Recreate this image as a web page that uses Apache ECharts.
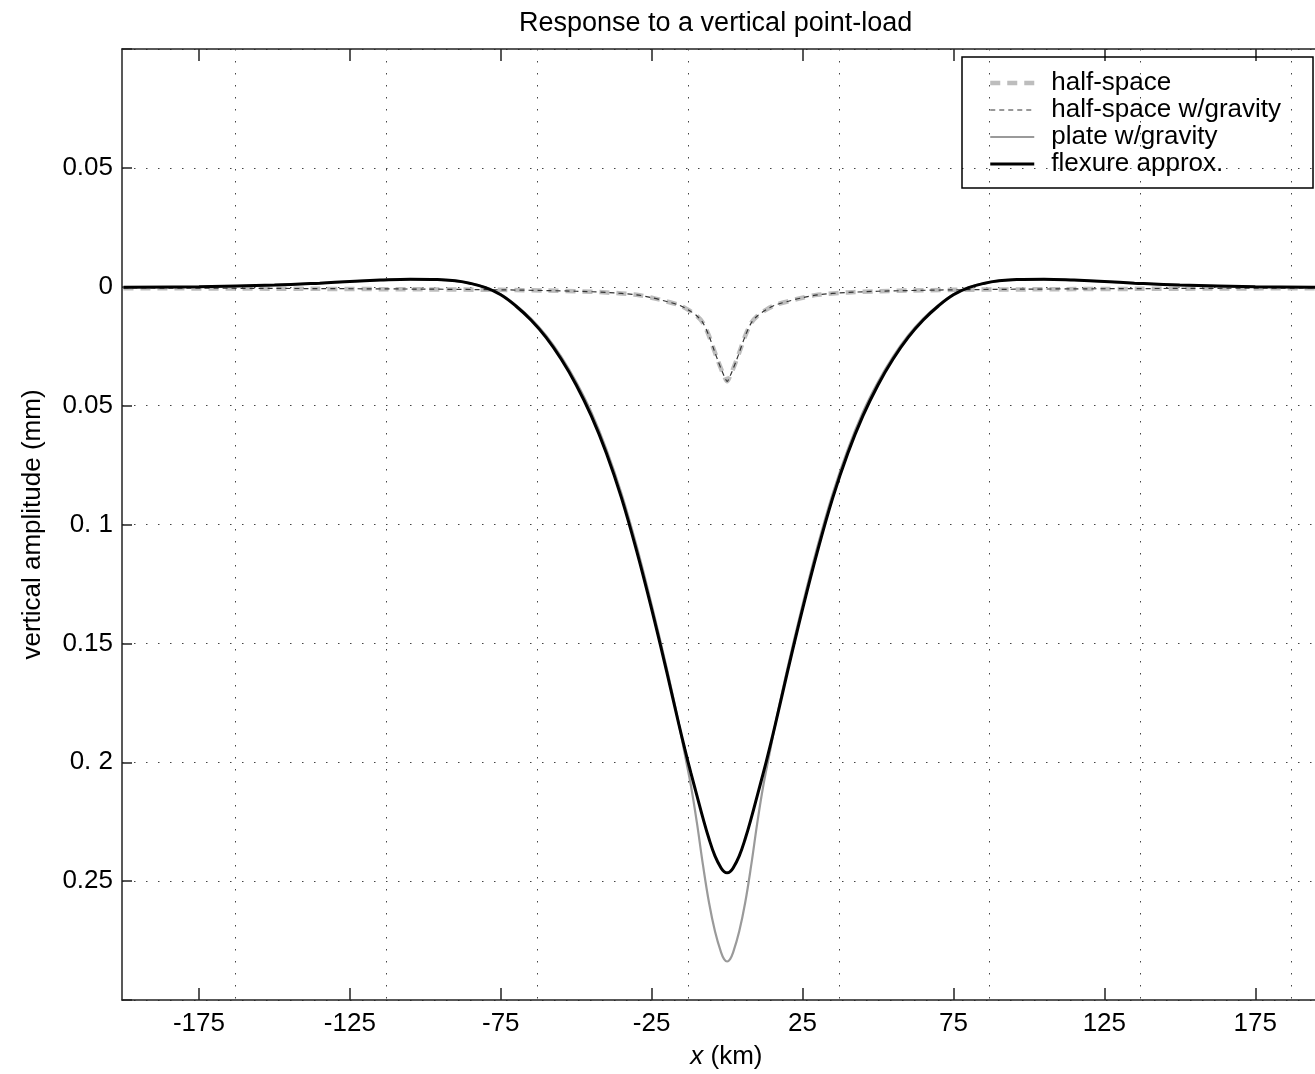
<!DOCTYPE html>
<html><head><meta charset="utf-8">
<script src="https://cdn.jsdelivr.net/npm/echarts@6/dist/echarts.min.js"></script>
<style>html,body{margin:0;padding:0;background:#fff}#c{width:1315px;height:1074px}</style>
</head><body><div id="c"></div>
<script>
// ---- data ----
const xTicks = [-175, -125, -75, -25, 25, 75, 125, 175];
const xGridLines = [-163, -113, -63, -13, 37, 87, 137, 187];
const yTickValues = [-0.05, 0, 0.05, 0.1, 0.15, 0.2, 0.25];
const yTickLabels = ['0.05', '0', '0.05', '0. 1', '0.15', '0. 2', '0.25'];

const hsX = [-200,-150,-100,-75,-60,-50,-40,-30,-25,-20,-16,-13,-10,-8,-6,-4,-3,-2,-1,0,1,2,3,4,6,8,10,13,16,20,25,30,40,50,60,75,100,150,200];
const halfSpace = [0.0006,0.0008,0.0011,0.0013,0.0016,0.0019,0.0024,0.0034,0.0046,0.0062,0.0077,0.0096,0.0123,0.0152,0.0207,0.0278,0.0312,0.0345,0.0375,0.0398,0.0375,0.0345,0.0312,0.0278,0.0207,0.0152,0.0123,0.0096,0.0077,0.0062,0.0046,0.0034,0.0024,0.0019,0.0016,0.0013,0.0011,0.0008,0.0006];
const halfSpaceGrav = [0.0005,0.0007,0.0010,0.0013,0.0016,0.0019,0.0024,0.0034,0.0046,0.0062,0.0077,0.0096,0.0123,0.0152,0.0207,0.0278,0.0312,0.0345,0.0375,0.0398,0.0375,0.0345,0.0312,0.0278,0.0207,0.0152,0.0123,0.0096,0.0077,0.0062,0.0046,0.0034,0.0024,0.0019,0.0016,0.0013,0.0010,0.0007,0.0005];

const flexX = [-200,-175,-150,-135,-125,-115,-105,-96,-90,-85,-80,-75,-70,-65,-60,-55,-50,-45,-40,-35,-30,-25,-20,-16,-14,-12,-10,-8,-6,-4,-2,-1,0,
               1,2,4,6,8,10,12,14,16,20,25,30,35,40,45,50,55,60,65,70,75,80,85,90,96,105,115,125,135,150,175,200];
const plateGrav = [0.0002,0.0000,-0.0007,-0.0015,-0.0022,-0.0028,-0.0031,-0.0030,-0.0024,-0.0014,0.0003,0.0031,0.0077,0.0134,0.0205,0.0294,0.0401,0.0528,0.0684,0.0870,0.1090,0.1338,0.1605,0.1838,0.1968,0.2098,0.2255,0.2432,0.2590,0.2712,0.2800,0.2828,0.2838,
                   0.2828,0.2800,0.2712,0.2590,0.2432,0.2255,0.2098,0.1968,0.1838,0.1605,0.1338,0.1090,0.0870,0.0684,0.0528,0.0401,0.0294,0.0205,0.0134,0.0077,0.0031,0.0003,-0.0014,-0.0024,-0.0030,-0.0031,-0.0028,-0.0022,-0.0015,-0.0007,0.0000,0.0002];
const flexure = [0.0002,0.0000,-0.0007,-0.0015,-0.0022,-0.0028,-0.0032,-0.0031,-0.0025,-0.0014,0.0004,0.0034,0.0081,0.0140,0.0213,0.0304,0.0413,0.0543,0.0700,0.0888,0.1110,0.1356,0.1620,0.1840,0.1945,0.2045,0.2140,0.2235,0.2322,0.2395,0.2445,0.2460,0.2465,
                 0.2460,0.2445,0.2395,0.2322,0.2235,0.2140,0.2045,0.1945,0.1840,0.1620,0.1356,0.1110,0.0888,0.0700,0.0543,0.0413,0.0304,0.0213,0.0140,0.0081,0.0034,0.0004,-0.0014,-0.0025,-0.0031,-0.0032,-0.0028,-0.0022,-0.0015,-0.0007,0.0000,0.0002];

const seriesNames = ['half-space', 'half-space w/gravity', 'plate w/gravity', 'flexure approx.'];

// ---- chart ----
const FONT = "'Liberation Sans', Arial, Helvetica, sans-serif";
const pairs = (xs, ys) => xs.map((x, i) => [x, ys[i]]);
const chart = echarts.init(document.getElementById('c'), null, {renderer: 'canvas'});

const axisColor = '#222';
const dotted = {color: '#444', width: 1, type: [1.5, 10.5]};
const styles = [
  {color: '#bdbdbd', width: 4.5, type: [10, 7]},
  {color: '#333', width: 1.2, type: [5, 4]},
  {color: '#9a9a9a', width: 2.2, type: 'solid'},
  {color: '#000', width: 3, type: 'solid'}
];

chart.setOption({
  animation: false,
  backgroundColor: '#fff',
  textStyle: {fontFamily: FONT},
  title: {
    text: 'Response to a vertical point-load',
    left: 514, top: 5,
    textStyle: {fontFamily: FONT, fontSize: 27, fontWeight: 'normal', color: '#000', lineHeight: 27}
  },
  grid: {left: 122, right: -15.7, top: 49, bottom: 74, containLabel: false, outerBoundsMode: 'none'},
  legend: {
    left: 962, top: 57,
    orient: 'vertical',
    padding: [13, 32, 11, 26],
    itemWidth: 44, itemHeight: 14, itemGap: 1,
    borderColor: '#000', borderWidth: 1.5, borderRadius: 0,
    itemStyle: {opacity: 0},
    textStyle: {fontFamily: FONT, fontSize: 26, color: '#000', lineHeight: 26, padding: [0, 0, 0, 12]},
    data: seriesNames.map((n, i) => ({
      name: n,
      itemStyle: {opacity: 0},
      lineStyle: {color: styles[i].color, width: styles[i].width, type: styles[i].type}
    }))
  },
  xAxis: [{
    type: 'value', min: -200.5, max: 200, position: 'bottom',
    axisLine: {show: true, onZero: false, lineStyle: {color: axisColor, width: 1.5}},
    axisTick: {show: true, inside: true, length: 12, customValues: xTicks, lineStyle: {color: axisColor, width: 1.5}},
    axisLabel: {show: true, customValues: xTicks, margin: 11, fontFamily: FONT, fontSize: 26, color: '#000'},
    splitLine: {show: false},
    name: '{it|x} (km)', nameLocation: 'middle', nameGap: 44,
    nameTextStyle: {fontFamily: FONT, fontSize: 26, color: '#000', rich: {it: {fontStyle: 'italic', fontFamily: FONT, fontSize: 26, color: '#000'}}}
  }, {
    type: 'value', min: -200.5, max: 200, position: 'top',
    axisLine: {show: true, onZero: false, lineStyle: {color: axisColor, width: 1.5}},
    axisTick: {show: true, inside: true, length: 12, customValues: xTicks, lineStyle: {color: axisColor, width: 1.5}},
    axisLabel: {show: false},
    splitLine: {show: false}
  }],
  yAxis: {
    type: 'value', inverse: true, min: -0.1, max: 0.3, interval: 0.05,
    axisLine: {show: true, onZero: false, lineStyle: {color: axisColor, width: 1.5}},
    axisTick: {show: true, inside: true, length: 10, lineStyle: {color: axisColor, width: 1.5}},
    axisLabel: {
      margin: 9, fontFamily: FONT, fontSize: 26, color: '#000',
      formatter: v => {
        const i = yTickValues.findIndex(t => Math.abs(t - v) < 1e-9);
        return i >= 0 ? yTickLabels[i] : '';
      }
    },
    splitLine: {show: true, lineStyle: dotted},
    name: 'vertical amplitude (mm)', nameLocation: 'middle', nameGap: 76,
    nameTextStyle: {fontFamily: FONT, fontSize: 26, color: '#000'}
  },
  series: [{
    name: seriesNames[0], type: 'line', data: pairs(hsX, halfSpace),
    showSymbol: false, symbol: 'none', smooth: 0.3,
    lineStyle: styles[0],
    itemStyle: {color: styles[0].color},
    markLine: {
      silent: true, symbol: 'none', z: 1, animation: false,
      label: {show: false},
      lineStyle: dotted,
      emphasis: {disabled: true},
      data: xGridLines.map(v => ({xAxis: v}))
    }
  }, {
    name: seriesNames[1], type: 'line', data: pairs(hsX, halfSpaceGrav),
    showSymbol: false, symbol: 'none', smooth: 0.3,
    lineStyle: styles[1],
    itemStyle: {color: styles[1].color}
  }, {
    name: seriesNames[2], type: 'line', data: pairs(flexX, plateGrav),
    showSymbol: false, symbol: 'none', smooth: 0.4,
    lineStyle: styles[2],
    itemStyle: {color: styles[2].color}
  }, {
    name: seriesNames[3], type: 'line', data: pairs(flexX, flexure),
    showSymbol: false, symbol: 'none', smooth: 0.4,
    lineStyle: styles[3],
    itemStyle: {color: styles[3].color}
  }]
});
</script>
</body></html>
